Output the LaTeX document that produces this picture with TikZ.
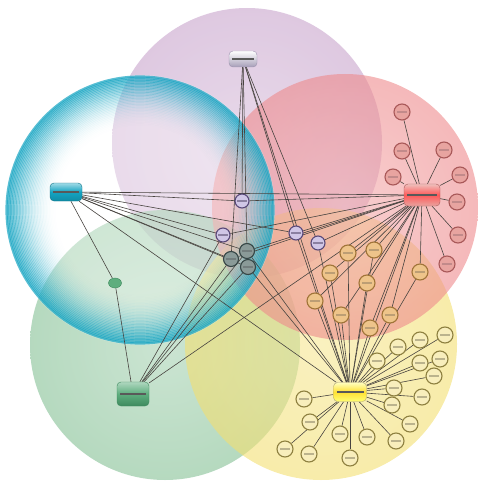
\documentclass[tikz,border=0pt]{standalone}
\usepackage{tikz}
\usetikzlibrary{shapes}

\definecolor{discpurple}{HTML}{C8A4CC}
\definecolor{discred}{HTML}{EE8A8C}
\definecolor{discyellow}{HTML}{F3DF71}
\definecolor{discgreen}{HTML}{84C094}
\definecolor{disccyan}{HTML}{14A4C2}
\definecolor{linkgray}{HTML}{484440}
\definecolor{satred}{HTML}{E8A4A0}
\definecolor{satreddk}{HTML}{A85858}
\definecolor{satorange}{HTML}{EEC48A}
\definecolor{satorangedk}{HTML}{A07438}
\definecolor{satyellow}{HTML}{F8EEBC}
\definecolor{satyellowdk}{HTML}{8E8040}
\definecolor{satpurple}{HTML}{D0C6E6}
\definecolor{satpurpledk}{HTML}{584878}
\definecolor{satdark}{HTML}{8A9A98}
\definecolor{satdarkdk}{HTML}{364646}
\definecolor{satgreen}{HTML}{5EAE7E}
\definecolor{satgreendk}{HTML}{3E8A5E}

\pgfdeclarelayer{discs}
\pgfdeclarelayer{links}
\pgfsetlayers{discs,links,main}

\tikzset{
	disc/.style = {
		fill opacity=0.6,
		shading=radial
	},
	band/.style = {
		path picture={\draw[line width=1.8pt, #1] ([xshift=-5pt]path picture bounding box.center) -- ([xshift=5pt]path picture bounding box.center);}
	},
	hubnode/.style = {
		rectangle,
		rounded corners=4pt,
		inner sep=0pt,
		line width=0.4pt,
		path picture={\draw[line width=1.6pt, black!65] ([xshift=3pt]path picture bounding box.west) -- ([xshift=-3pt]path picture bounding box.east);}
	},
	hub_purple/.style = {
		hubnode,
		minimum width=28pt,
		minimum height=16pt,
		draw=satpurpledk!60,
		top color=white,
		bottom color=satpurple!80!black
	},
	hub_cyan/.style = {
		hubnode,
		minimum width=32pt,
		minimum height=18pt,
		draw=disccyan!70!black,
		top color=disccyan!40!white,
		bottom color=disccyan!85!black,
		middle color=disccyan
	},
	hub_red/.style = {
		hubnode,
		minimum width=36pt,
		minimum height=22pt,
		draw=satreddk,
		top color=satred!70!white,
		bottom color=satred,
		middle color=red!65!white
	},
	hub_yellow/.style = {
		hubnode,
		minimum width=33pt,
		minimum height=19pt,
		draw=satyellowdk!70,
		top color=yellow!25!white,
		bottom color=yellow!55!white,
		middle color=yellow!70!orange!80!white
	},
	hub_green/.style = {
		hubnode,
		minimum width=32pt,
		minimum height=24pt,
		draw=satgreendk,
		top color=satgreen!50!white,
		bottom color=satgreendk,
		middle color=satgreen
	},
	satnode/.style = {
		circle,
		inner sep=0pt,
		minimum size=16pt,
		line width=1.1pt
	},
	sat_red/.style = {
		satnode,
		draw=satreddk,
		fill=satred,
		band=satreddk!70
	},
	sat_orange/.style = {
		satnode,
		draw=satorangedk,
		fill=satorange,
		band=satorangedk!70
	},
	sat_yellow/.style = {
		satnode,
		draw=satyellowdk,
		fill=satyellow,
		band=satyellowdk!60
	},
	sat_purple/.style = {
		satnode,
		minimum size=14pt,
		draw=satpurpledk,
		fill=satpurple,
		band=satpurpledk!70
	},
	sat_dark/.style = {
		satnode,
		minimum size=15pt,
		draw=satdarkdk,
		fill=satdark,
		band=satdarkdk!70
	},
	sat_green/.style = {
		ellipse,
		inner sep=0pt,
		minimum width=13pt,
		minimum height=10pt,
		draw=satgreendk,
		fill=satgreen
	},
	link/.style = {
		draw=linkgray,
		line width=0.6pt
	}
}

\begin{document}
\begin{tikzpicture}[x=1pt, y=-1pt]
\useasboundingbox (0,0) rectangle (477,484);

\begin{pgfonlayer}{discs}
	\shade[disc, inner color=discpurple!70, outer color=discpurple] (247,143) circle (135);
	\shade[disc, inner color=discgreen!70, outer color=discgreen] (165,345) circle (135);
	\shade[disc, inner color=discyellow!75, outer color=discyellow] (321,344) circle (136);
	\shade[disc, inner color=discred!70, outer color=discred] (345,207) circle (133);
	% bubble: pale core, teal rim built up from thin rings
	\fill[white, fill opacity=0.35] (140,210) circle (135);
	\foreach \r [evaluate=\r as \o using {0.72*((\r-80)/54)^2.4}] in {81,82.5,...,134}
		\draw[disccyan, line width=2.2pt, draw opacity=\o] (140,210) circle (\r);
\end{pgfonlayer}

\node [hub_purple] (hp) at (243,59) {};
\node [hub_cyan] (hc) at (66,192) {};
\node [hub_red] (hr) at (422,195) {};
\node [hub_yellow] (hy) at (350,392) {};
\node [hub_green] (hg) at (133,394) {};
\node [sat_green] (gs) at (115,283) {};

\node [sat_purple] (p1) at (242,201) {};
\node [sat_purple] (p2) at (223,235) {};
\node [sat_purple] (p3) at (296,233) {};
\node [sat_purple] (p4) at (318,243) {};

\node [sat_dark] (d1) at (247,251) {};
\node [sat_dark] (d2) at (231,259) {};
\node [sat_dark] (d3) at (248,267) {};

\node [sat_red] (r1) at (402,112) {};
\node [sat_red] (r2) at (402,151) {};
\node [sat_red] (r3) at (444,150) {};
\node [sat_red] (r4) at (393,177) {};
\node [sat_red] (r5) at (460,175) {};
\node [sat_red] (r6) at (457,202) {};
\node [sat_red] (r7) at (458,235) {};
\node [sat_red] (r8) at (447,264) {};

\node [sat_orange] (o1) at (348,253) {};
\node [sat_orange] (o2) at (374,250) {};
\node [sat_orange] (o3) at (330,273) {};
\node [sat_orange] (o4) at (367,283) {};
\node [sat_orange] (o5) at (420,272) {};
\node [sat_orange] (o6) at (315,301) {};
\node [sat_orange] (o7) at (341,315) {};
\node [sat_orange] (o8) at (390,315) {};
\node [sat_orange] (o9) at (370,328) {};

\node [sat_yellow] (y1) at (304,399) {};
\node [sat_yellow] (y2) at (310,422) {};
\node [sat_yellow] (y3) at (285,449) {};
\node [sat_yellow] (y4) at (309,454) {};
\node [sat_yellow] (y5) at (340,434) {};
\node [sat_yellow] (y6) at (350,458) {};
\node [sat_yellow] (y7) at (367,437) {};
\node [sat_yellow] (y8) at (396,441) {};
\node [sat_yellow] (y9) at (410,424) {};
\node [sat_yellow] (y10) at (392,405) {};
\node [sat_yellow] (y11) at (422,397) {};
\node [sat_yellow] (y12) at (394,388) {};
\node [sat_yellow] (y13) at (377,361) {};
\node [sat_yellow] (y14) at (398,347) {};
\node [sat_yellow] (y15) at (420,340) {};
\node [sat_yellow] (y16) at (445,335) {};
\node [sat_yellow] (y17) at (420,363) {};
\node [sat_yellow] (y18) at (440,359) {};
\node [sat_yellow] (y19) at (434,376) {};

\begin{pgfonlayer}{links}
	\draw [link] (hp) edge (p1) edge (d1) edge (d2) edge (p3) edge (p4) edge (hy);
	\draw [link] (hc) edge (hr) edge (p1) edge (p2) edge (d1) edge (d2) edge (d3) edge (p3) edge (hy) edge (gs);
	\draw [link] (gs) -- (hg);
	\draw [link] (hg) edge (hr) edge (p2) edge (d1) edge (d2) edge (d3);
	\draw [link] (hr) edge (p1) edge (p2) edge (p3) edge (p4) edge (d1) edge (d2) edge (hy);
	\draw [link] (hy) edge (d1) edge (d3) edge (p3) edge (p4);
	\draw [link] (hr) edge (o1) edge (o2) edge (o3) edge (o4) edge (o5) edge (o6) edge (o7) edge (o8) edge (o9);
	\draw [link] (hy) edge (o1) edge (o2) edge (o3) edge (o4) edge (o5) edge (o6) edge (o7) edge (o8) edge (o9);
	\draw [link] (hr) edge (r1) edge (r2) edge (r3) edge (r4) edge (r5) edge (r6) edge (r7) edge (r8);
	\draw [link] (hy) edge (y1) edge (y2) edge (y3) edge (y4) edge (y5) edge (y6) edge (y7) edge (y8) edge (y9) edge (y10);
	\draw [link] (hy) edge (y11) edge (y12) edge (y13) edge (y14) edge (y15) edge (y16) edge (y17) edge (y18) edge (y19);
\end{pgfonlayer}
\end{tikzpicture}
\end{document}
